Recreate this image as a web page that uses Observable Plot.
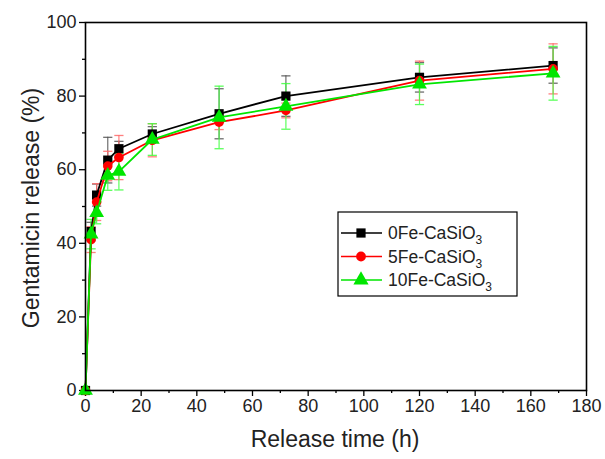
<!DOCTYPE html>
<html>
<head>
<meta charset="utf-8">
<script src="https://cdn.jsdelivr.net/npm/d3@7"></script>
<script src="https://cdn.jsdelivr.net/npm/@observablehq/plot@0.6"></script>
<style>
  html, body { margin: 0; padding: 0; background: #fff; }
  #chart { width: 605px; height: 459px; }
  svg { font-family: "Liberation Sans", Arial, sans-serif; }
</style>
</head>
<body>
<div id="chart"></div>
<script>
const time = [0, 2, 4, 8, 12, 24, 48, 72, 120, 168];
const fe0 = [0, 43.2, 53.1, 62.6, 65.7, 69.7, 75.2, 80.0, 85.1, 88.3];
const fe0Err = [0, 2.5, 3, 6.2, 2, 2, 6.8, 5.5, 4, 4.8];
const fe5 = [0, 41.0, 51.2, 61.0, 63.3, 68.0, 72.9, 76.1, 84.2, 87.4];
const fe5Err = [0, 3.5, 5, 4, 6, 4.5, 2, 2, 5.3, 6.8];
const fe10 = [0, 42.5, 48.3, 58.4, 59.5, 68.2, 74.2, 77.2, 83.2, 86.2];
const fe10Err = [0, 4, 3, 4, 5, 4.3, 8.5, 6.2, 5.5, 7.3];

const seriesNames = ["0Fe-CaSiO3", "5Fe-CaSiO3", "10Fe-CaSiO3"];
const seriesColors = ["#000000", "#ff0000", "#00e600"];
const errColors = ["#555555", "#ff6a6a", "#40ff40"];
const seriesSymbols = ["square", "circle", "triangle"];
const seriesValues = [fe0, fe5, fe10];
const seriesErrs = [fe0Err, fe5Err, fe10Err];

const xTicks = d3.range(0, 181, 20);
const xMinor = d3.range(10, 180, 20);
const yTicks = d3.range(0, 101, 20);
const yMinor = d3.range(10, 100, 20);

const rows = [];
seriesNames.forEach((name, s) => {
  time.forEach((t, i) => {
    rows.push({series: name, s, t, v: seriesValues[s][i], e: seriesErrs[s][i]});
  });
});

const cap = {
  draw(ctx, size) {
    const w = Math.sqrt(size);
    ctx.moveTo(-w, 0);
    ctx.lineTo(w, 0);
  }
};

const marks = [];
seriesNames.forEach((name, s) => {
  const d = rows.filter(r => r.s === s);
  const de = d.filter(r => r.e > 0);
  marks.push(
    Plot.ruleX(de, {x: "t", y1: r => r.v - r.e, y2: r => r.v + r.e, stroke: errColors[s], strokeWidth: 1.2, strokeOpacity: 0.85}),
    Plot.dot(de, {x: "t", y: r => r.v + r.e, symbol: cap, r: 2.6, stroke: errColors[s], strokeWidth: 1.3, strokeOpacity: 0.85}),
    Plot.dot(de, {x: "t", y: r => r.v - r.e, symbol: cap, r: 2.6, stroke: errColors[s], strokeWidth: 1.3, strokeOpacity: 0.85})
  );
});
seriesNames.forEach((name, s) => {
  const d = rows.filter(r => r.s === s);
  marks.push(
    Plot.line(d, {x: "t", y: "v", stroke: seriesColors[s], strokeWidth: 1.8}),
    Plot.dot(d, {x: "t", y: "v", symbol: seriesSymbols[s], fill: seriesColors[s], stroke: "none", r: s === 2 ? 5.5 : (s === 0 ? 5.2 : 4.8)})
  );
});

const plot = Plot.plot({
  width: 605,
  height: 459,
  marginLeft: 85,
  marginRight: 19,
  marginTop: 22,
  marginBottom: 69,
  style: {fontFamily: "Liberation Sans, Arial, sans-serif", background: "#fff"},
  x: {domain: [0, 180], label: null},
  y: {domain: [0, 100], label: null},
  marks: [
    Plot.axisX({ticks: xMinor, tickSize: 3, text: null, strokeWidth: 1.3}),
    Plot.axisX({ticks: xTicks, tickSize: 6, tickPadding: 3, fontSize: 18, fill: "#222", strokeWidth: 1.3, tickFormat: d => String(d)}),
    Plot.axisY({ticks: yMinor, tickSize: 3, text: null, strokeWidth: 1.3}),
    Plot.axisY({ticks: yTicks, tickSize: 6, tickPadding: 3, fontSize: 18, fill: "#222", strokeWidth: 1.3, tickFormat: d => String(d)}),
    ...marks,
    Plot.frame({stroke: "#000", strokeWidth: 1.6})
  ]
});

document.getElementById("chart").appendChild(plot);

const svg = d3.select(plot);
svg.append("text")
  .attr("x", 335).attr("y", 447)
  .attr("text-anchor", "middle")
  .attr("font-size", 23).attr("fill", "#222")
  .text("Release time (h)");
svg.append("text")
  .attr("transform", "translate(39,208) rotate(-90)")
  .attr("text-anchor", "middle")
  .attr("font-size", 23).attr("fill", "#222")
  .text("Gentamicin release (%)");

// legend
const lg = svg.append("g").attr("text-anchor", "start");
lg.append("rect")
  .attr("x", 338).attr("y", 212).attr("width", 179).attr("height", 84)
  .attr("fill", "#fff").attr("stroke", "#000").attr("stroke-width", 1.2);
const symGen = [d3.symbolSquare, d3.symbolCircle, d3.symbolTriangle];
const symSize = [85, 75, 100];
seriesNames.forEach((name, s) => {
  const yy = 233 + s * 23.5;
  lg.append("line").attr("x1", 341).attr("x2", 382).attr("y1", yy).attr("y2", yy)
    .attr("stroke", seriesColors[s]).attr("stroke-width", 1.6);
  lg.append("path").attr("d", d3.symbol(symGen[s], symSize[s])())
    .attr("transform", `translate(361,${yy})`).attr("fill", seriesColors[s]);
  const base = name.slice(0, -1);
  const t = lg.append("text").attr("x", 388).attr("y", yy + 6)
    .attr("text-anchor", "start")
    .attr("font-size", 17.5).attr("fill", "#222");
  t.append("tspan").text(base);
  t.append("tspan").attr("font-size", 12).attr("dy", 5).text("3");
});
</script>
</body>
</html>
